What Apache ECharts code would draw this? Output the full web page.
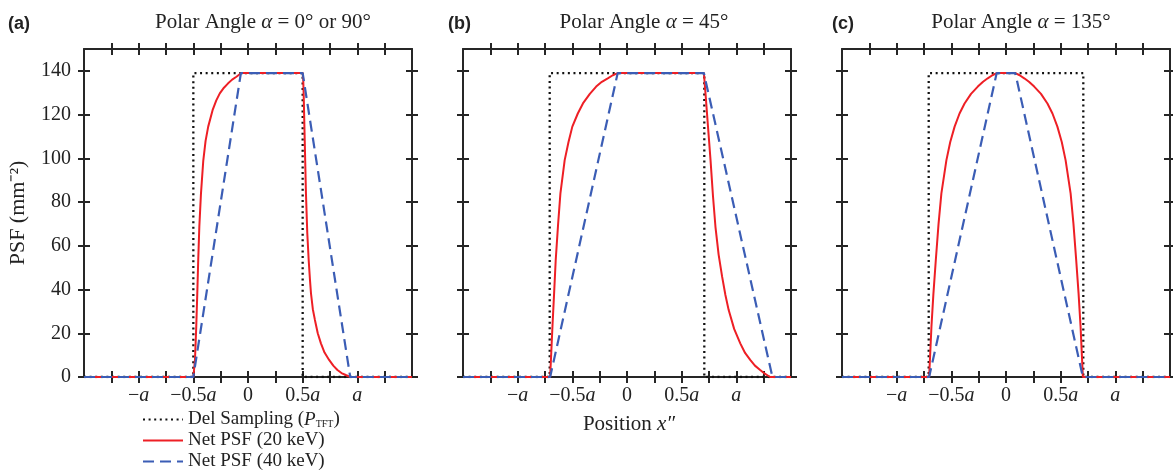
<!DOCTYPE html>
<html><head><meta charset="utf-8">
<script src="https://cdn.jsdelivr.net/npm/echarts@6/dist/echarts.min.js"></script>
<style>html,body{margin:0;padding:0;background:#fff}#c{width:1173px;height:471px}</style>
</head><body><div id="c"></div>
<script>
// ---- data (x in units of a, y = PSF in mm^-2) ----
const xTickVals = [-1.25,-1,-0.75,-0.5,-0.25,0,0.25,0.5,0.75,1,1.25];
const xLabelVals = [-1,-0.5,0,0.5,1];
const xLabelText = ['\u2212a','\u22120.5a','0','0.5a','a'];
const yTickVals = [0,20,40,60,80,100,120,140];
const panelTitles = [' = 0° or 90°',' = 45°',' = 135°'];
const panelTags = ['(a)','(b)','(c)'];
const seriesNames = ['Del Sampling','Net PSF (20 keV)','Net PSF (40 keV)'];

// Panel (a)  alpha = 0 or 90
const delA = [[-1.5,0],[-0.5,0],[-0.5,139],[0.5,139],[0.5,0],[1.5,0]];
const redA = [[-1.5,0],[-0.5,0],[-0.492,4],[-0.485,8],[-0.474,22],[-0.464,38],[-0.455,54],[-0.445,69],[-0.43,84],[-0.409,99],[-0.388,108],[-0.364,114.5],[-0.324,122],[-0.29,126.5],[-0.258,129.7],[-0.22,132.3],[-0.182,134.3],[-0.145,136],[-0.106,137.3],[-0.061,139],[0.5,139],[0.505,136],[0.509,129.7],[0.518,110],[0.53,84],[0.542,66],[0.555,53.5],[0.566,45],[0.576,38.3],[0.593,31],[0.612,26.1],[0.638,20],[0.667,15.4],[0.7,11.2],[0.742,7.8],[0.78,5.2],[0.818,3.2],[0.855,1.8],[0.894,0.9],[0.935,0],[1.5,0]];
const blueA = [[-1.5,0],[-0.5,0],[-0.065,139],[0.5,139],[0.935,0],[1.5,0]];

// Panel (b)  alpha = 45
const delB = [[-1.5,0],[-0.707,0],[-0.707,139],[0.707,139],[0.707,0],[1.5,0]];
const redB = [[-1.5,0],[-0.703,0],[-0.693,11],[-0.682,23],[-0.667,38],[-0.652,53.5],[-0.63,70],[-0.609,84],[-0.57,99.2],[-0.535,107.5],[-0.5,114.5],[-0.45,120.5],[-0.403,125.1],[-0.34,129.5],[-0.282,132.8],[-0.23,135],[-0.176,136.6],[-0.13,138],[-0.085,139],[0.703,139],[0.708,136],[0.718,129.7],[0.74,115],[0.764,99.2],[0.786,83],[0.809,68.7],[0.838,56],[0.87,45.9],[0.9,37.5],[0.93,30.6],[0.98,22],[1.036,15.4],[1.08,11],[1.127,7.8],[1.17,5.2],[1.218,3.2],[1.26,1.5],[1.309,0],[1.5,0]];
const blueB = [[-1.5,0],[-0.703,0],[-0.085,139],[0.703,139],[1.33,0],[1.5,0]];

// Panel (c)  alpha = 135
const delC = [[-1.5,0],[-0.707,0],[-0.707,139],[0.707,139],[0.707,0],[1.5,0]];
const redC = [[-1.5,0],[-0.703,0],[-0.693,11],[-0.682,23],[-0.664,38],[-0.642,53.5],[-0.617,70],[-0.591,84],[-0.545,99.2],[-0.51,107.5],[-0.47,114.5],[-0.425,120.5],[-0.379,125.1],[-0.32,129.5],[-0.258,132.8],[-0.21,135],[-0.167,136.6],[-0.125,138],[-0.085,139],[0.085,139],[0.125,138],[0.167,136.6],[0.21,135],[0.258,132.8],[0.32,129.5],[0.379,125.1],[0.425,120.5],[0.47,114.5],[0.51,107.5],[0.545,99.2],[0.591,84],[0.617,70],[0.642,53.5],[0.664,38],[0.682,23],[0.693,11],[0.703,0],[1.5,0]];
const blueC = [[-1.5,0],[-0.703,0],[-0.085,139],[0.085,139],[0.703,0],[1.5,0]];

const panels = [[delA,redA,blueA],[delB,redB,blueB],[delC,redC,blueC]];

// ---- layout / style ----
const FRAME = '#262626';
const SERIF = 'Liberation Serif, Times New Roman, serif';
const gridLefts = [84,463,842];
const gridTop = 49, gridSize = 328;
const titleCenters = [263,644,1021];
const tagLefts = [8,448,832];

const grids = gridLefts.map(l => ({left:l, top:gridTop, width:gridSize, height:gridSize}));

function xFmt(v){
  const i = xLabelVals.findIndex(t => Math.abs(t - v) < 1e-9);
  if (i < 0) return '';
  const s = xLabelText[i];
  if (s.endsWith('a')) {
    const pre = s.slice(0,-1);
    return (pre ? '{n|' + pre + '}' : '') + '{i|a}';
  }
  return '{n|' + s + '}';
}
const labRich = {
  n:{fontFamily:SERIF,fontSize:20,color:'#222'},
  i:{fontFamily:SERIF,fontSize:20,fontStyle:'italic',color:'#222'}
};

const xAxes = [], yAxes = [];
grids.forEach((g, gi) => {
  [['bottom',false,true,true],['bottom',true,false,false],['top',false,true,false],['top',true,false,false]].forEach(([pos,inside,line,label]) => {
    xAxes.push({
      type:'value', gridIndex:gi, position:pos, min:-1.5, max:1.5, interval:0.25,
      axisLine:{show:line,onZero:false,lineStyle:{color:FRAME,width:2}},
      axisTick:{show:true,inside:inside,length:6,customValues:xTickVals,lineStyle:{color:FRAME,width:2}},
      axisLabel:{show:label,customValues:xLabelVals,formatter:xFmt,margin:9,rich:labRich},
      splitLine:{show:false}
    });
  });
  [['left',false,true,gi===0],['left',true,false,false],['right',false,true,false],['right',true,false,false]].forEach(([pos,inside,line,label],k) => {
    const ax = {
      type:'value', gridIndex:gi, position:pos, min:0, max:150, interval:10,
      axisLine:{show:line,onZero:false,lineStyle:{color:FRAME,width:2}},
      axisTick:{show:true,inside:inside,length:6,customValues:yTickVals,lineStyle:{color:FRAME,width:2}},
      axisLabel:{show:label,customValues:yTickVals,margin:13,fontFamily:SERIF,fontSize:20,color:'#222'},
      splitLine:{show:false}
    };
    if (gi===0 && k===0) {
      ax.name = 'PSF (mm\u207B\u00B2)';
      ax.nameLocation = 'middle';
      ax.nameRotate = 90;
      ax.nameGap = 55;
      ax.nameTextStyle = {fontFamily:SERIF,fontSize:22,color:'#222'};
    }
    yAxes.push(ax);
  });
});

const series = [];
panels.forEach((p, gi) => {
  series.push({type:'line',name:seriesNames[0],xAxisIndex:4*gi,yAxisIndex:4*gi,data:p[0],symbol:'none',z:3,
    lineStyle:{color:'#111',width:2.3,type:[2,3.6],cap:'butt'},itemStyle:{color:'#111'}});
  series.push({type:'line',name:seriesNames[1],xAxisIndex:4*gi,yAxisIndex:4*gi,data:p[1],symbol:'none',z:4,
    lineStyle:{color:'#ee1f25',width:2},itemStyle:{color:'#ee1f25'}});
  series.push({type:'line',name:seriesNames[2],xAxisIndex:4*gi,yAxisIndex:4*gi,data:p[2],symbol:'none',z:5,
    lineStyle:{color:'#3b5db5',width:2.2,type:[11,6]},itemStyle:{color:'#3b5db5'}});
});

const graphics = [];
panelTitles.forEach((t, i) => {
  graphics.push({type:'text', x:titleCenters[i], y:22, style:{
    text:'{t|Polar Angle }{i|\u03B1}{t|' + t + '}', align:'center', verticalAlign:'middle',
    rich:{t:{fontFamily:SERIF,fontSize:21,fill:'#222'}, i:{fontFamily:SERIF,fontSize:21,fontStyle:'italic',fill:'#222'}}
  }});
  graphics.push({type:'text', x:tagLefts[i], y:24, style:{
    text:panelTags[i], align:'left', verticalAlign:'middle',
    font:'bold 18px Liberation Sans, Arial, sans-serif', fill:'#222'
  }});
});
graphics.push({type:'text', x:629, y:424, style:{
  text:'{t|Position }{i|x\u2033}', align:'center', verticalAlign:'middle',
  rich:{t:{fontFamily:SERIF,fontSize:21,fill:'#222'}, i:{fontFamily:SERIF,fontSize:21,fontStyle:'italic',fill:'#222'}}
}});

const chart = echarts.init(document.getElementById('c'));
chart.setOption({
  animation:false,
  backgroundColor:'#fff',
  grid:grids,
  xAxis:xAxes,
  yAxis:yAxes,
  series:series,
  graphic:graphics,
  legend:{
    data:seriesNames, orient:'vertical', left:142, top:410, padding:0, height:61,
    itemWidth:40, itemHeight:12, itemGap:2,
    selectedMode:false,
    itemStyle:{opacity:0, borderWidth:0},
    formatter:function(name){
      if (name === 'Del Sampling') return '{t|Del Sampling (}{i|P}{s|TFT}{t|)}';
      return '{t|' + name + '}';
    },
    textStyle:{fontFamily:SERIF,fontSize:19,color:'#222',
      rich:{
        t:{fontFamily:SERIF,fontSize:19,color:'#222',lineHeight:19},
        i:{fontFamily:SERIF,fontSize:19,fontStyle:'italic',color:'#222',lineHeight:19},
        s:{fontFamily:SERIF,fontSize:10,color:'#222',lineHeight:10,verticalAlign:'bottom'}
      }}
  }
});
</script></body></html>
